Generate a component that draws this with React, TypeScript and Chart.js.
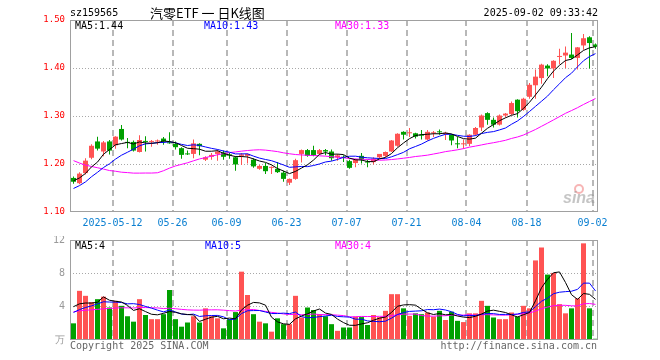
import React, { useEffect, useRef } from 'react';
import { Chart, registerables } from 'chart.js';

Chart.register(...registerables);

// ---------- data ----------
const dates = [
  '04-28', '04-29', '04-30', '05-06', '05-07', '05-08', '05-09',
  '05-12', '05-13', '05-14', '05-15', '05-16',
  '05-19', '05-20', '05-21', '05-22', '05-23',
  '05-26', '05-27', '05-28', '05-29', '05-30',
  '06-03', '06-04', '06-05', '06-06',
  '06-09', '06-10', '06-11', '06-12', '06-13',
  '06-16', '06-17', '06-18', '06-19', '06-20',
  '06-23', '06-24', '06-25', '06-26', '06-27',
  '06-30', '07-01', '07-02', '07-03', '07-04',
  '07-07', '07-08', '07-09', '07-10', '07-11',
  '07-14', '07-15', '07-16', '07-17', '07-18',
  '07-21', '07-22', '07-23', '07-24', '07-25',
  '07-28', '07-29', '07-30', '07-31', '08-01',
  '08-04', '08-05', '08-06', '08-07', '08-08',
  '08-11', '08-12', '08-13', '08-14', '08-15',
  '08-18', '08-19', '08-20', '08-21', '08-22',
  '08-25', '08-26', '08-27', '08-28', '08-29',
  '09-01', '09-02',
];

const tickDates = ['05-12', '05-26', '06-09', '06-23', '07-07', '07-21', '08-04', '08-18', '09-02'];
const tickLabels = ['2025-05-12', '05-26', '06-09', '06-23', '07-07', '07-21', '08-04', '08-18', '09-02'];
const priceTicks = [1.1, 1.2, 1.3, 1.4, 1.5];
const volumeTicks = [0, 4, 8, 12];
const volumeUnit = '万';

const open = [
  1.171, 1.160, 1.181, 1.213, 1.247, 1.226, 1.247, 1.239, 1.273, 1.246,
  1.246, 1.225, 1.248, 1.246, 1.247, 1.253, 1.245, 1.242, 1.233, 1.222,
  1.221, 1.242, 1.209, 1.215, 1.221, 1.224, 1.220, 1.214, 1.217, 1.217,
  1.209, 1.190, 1.196, 1.192, 1.190, 1.182, 1.161, 1.169, 1.221, 1.229,
  1.229, 1.221, 1.229, 1.226, 1.214, 1.215, 1.206, 1.202, 1.217, 1.205,
  1.204, 1.214, 1.217, 1.226, 1.238, 1.267, 1.264, 1.264, 1.261, 1.251,
  1.264, 1.268, 1.262, 1.261, 1.243, 1.241, 1.242, 1.261, 1.276, 1.306,
  1.292, 1.282, 1.301, 1.304, 1.334, 1.313, 1.340, 1.364, 1.379, 1.405,
  1.399, 1.423, 1.426, 1.428, 1.421, 1.447, 1.464, 1.449,
];
const high = [
  1.174, 1.183, 1.212, 1.241, 1.257, 1.248, 1.250, 1.258, 1.281, 1.254,
  1.249, 1.260, 1.258, 1.250, 1.251, 1.256, 1.266, 1.247, 1.235, 1.228,
  1.251, 1.243, 1.216, 1.223, 1.230, 1.228, 1.223, 1.216, 1.223, 1.222,
  1.212, 1.198, 1.202, 1.195, 1.204, 1.186, 1.170, 1.211, 1.230, 1.231,
  1.238, 1.231, 1.231, 1.230, 1.221, 1.218, 1.209, 1.211, 1.223, 1.209,
  1.214, 1.221, 1.226, 1.250, 1.264, 1.268, 1.275, 1.265, 1.271, 1.271,
  1.269, 1.272, 1.267, 1.262, 1.256, 1.251, 1.262, 1.277, 1.303, 1.308,
  1.297, 1.303, 1.306, 1.330, 1.335, 1.338, 1.369, 1.397, 1.409, 1.408,
  1.416, 1.440, 1.445, 1.473, 1.444, 1.471, 1.466, 1.451,
];
const low = [
  1.159, 1.158, 1.178, 1.210, 1.228, 1.216, 1.220, 1.232, 1.249, 1.233,
  1.226, 1.224, 1.226, 1.236, 1.240, 1.240, 1.242, 1.230, 1.211, 1.219,
  1.212, 1.218, 1.206, 1.209, 1.207, 1.209, 1.211, 1.186, 1.198, 1.201,
  1.192, 1.188, 1.179, 1.179, 1.181, 1.163, 1.156, 1.167, 1.203, 1.215,
  1.216, 1.219, 1.218, 1.207, 1.207, 1.204, 1.190, 1.193, 1.201, 1.193,
  1.199, 1.212, 1.214, 1.225, 1.236, 1.251, 1.256, 1.253, 1.251, 1.249,
  1.256, 1.261, 1.250, 1.239, 1.233, 1.232, 1.237, 1.259, 1.269, 1.282,
  1.276, 1.280, 1.297, 1.302, 1.297, 1.311, 1.336, 1.336, 1.367, 1.383,
  1.379, 1.408, 1.400, 1.419, 1.397, 1.438, 1.399, 1.440,
];
const close = [
  1.163, 1.180, 1.207, 1.238, 1.232, 1.245, 1.228, 1.257, 1.251, 1.244,
  1.228, 1.250, 1.246, 1.248, 1.249, 1.247, 1.243, 1.235, 1.219, 1.220,
  1.243, 1.237, 1.214, 1.219, 1.226, 1.215, 1.218, 1.199, 1.220, 1.221,
  1.195, 1.196, 1.185, 1.194, 1.183, 1.169, 1.169, 1.208, 1.229, 1.217,
  1.218, 1.229, 1.226, 1.212, 1.218, 1.213, 1.192, 1.209, 1.209, 1.203,
  1.211, 1.221, 1.225, 1.249, 1.263, 1.261, 1.266, 1.257, 1.259, 1.267,
  1.266, 1.266, 1.265, 1.249, 1.241, 1.243, 1.261, 1.275, 1.301, 1.292,
  1.282, 1.301, 1.305, 1.327, 1.310, 1.336, 1.365, 1.382, 1.407, 1.399,
  1.415, 1.425, 1.432, 1.421, 1.443, 1.462, 1.452, 1.444,
];
// volume, 万手
const volume = [
  2.0, 5.9, 5.3, 4.55, 4.9, 5.2, 3.9, 4.7, 4.1, 2.85,
  2.2, 4.9, 3.0, 2.5, 2.5, 3.1, 6.0, 2.5, 1.6, 2.1,
  2.85, 2.1, 3.8, 2.85, 2.6, 1.4, 2.5, 3.35, 8.2, 5.4,
  3.1, 2.2, 2.0, 1.0, 2.6, 1.9, 1.9, 5.3, 2.7, 3.9,
  3.6, 3.1, 2.85, 1.9, 1.1, 1.5, 1.5, 2.8, 2.75, 1.8,
  3.0, 2.75, 3.5, 5.5, 5.5, 3.8, 2.9, 3.2, 3.1, 3.3,
  2.8, 3.5, 2.4, 3.4, 2.3, 2.15, 3.2, 3.2, 4.7, 4.1,
  2.7, 2.5, 2.5, 3.3, 2.8, 4.1, 3.8, 9.55, 11.1, 7.85,
  8.05, 4.3, 3.2, 3.8, 5.0, 11.6, 3.8, 0.15,
];
// sessions before the first visible candle (needed for the moving averages)
const priorCloses = [
  1.33, 1.34, 1.32, 1.31, 1.33, 1.32, 1.30, 1.31,
  1.27, 1.26, 1.25, 1.24, 1.25, 1.23,
  1.12, 1.08, 1.10, 1.12, 1.12, 1.12,
  1.12, 1.13, 1.13, 1.14, 1.145,
  1.15, 1.16, 1.17, 1.182,
];
const priorVolumes = [
  3.0, 3.2, 2.9, 3.3, 3.1, 2.8, 3.0, 3.2,
  3.1, 2.9, 3.0, 3.2, 3.3, 3.0,
  5.5, 4.6, 4.4, 4.0, 3.8, 3.7,
  2.4, 2.8, 2.6, 2.5, 2.7,
  4.2, 4.8, 4.6, 4.4,
];

const code = 'sz159565';
const title = '汽零ETF 一 日K线图';
const timestamp = '2025-09-02 09:33:42';
const priceMaLabels = ['MA5:1.44', 'MA10:1.43', 'MA30:1.33'];
const volumeMaLabels = ['MA5:4', 'MA10:5', 'MA30:4'];
const maPeriods = [5, 10, 30];
const copyright = 'Copyright 2025 SINA.COM';
const siteUrl = 'http://finance.sina.com.cn';
const watermark = 'sina';

// ---------- styles ----------
const MONO = '"DejaVu Sans Mono", monospace';
const RED = '#ff5353';
const GREEN = '#00a000';
const MA_COLORS = ['#000000', '#0000ff', '#ff00ff'];
const X_MIN = -1 / 12;

function movingAverage(values: number[], prior: number[], n: number) {
  const all = prior.concat(values);
  return values.map((_, i) => {
    const end = prior.length + i;
    let s = 0;
    for (let k = end - n + 1; k <= end; k++) s += all[k];
    return s / n;
  });
}

const tickIdx = tickDates.map((d) => dates.indexOf(d));
const candleColors = close.map((c, i) => (c >= open[i] ? RED : GREEN));

function xAxis(showLabels: boolean, height: number) {
  return {
    type: 'linear',
    min: X_MIN,
    max: dates.length + X_MIN,
    offset: false,
    afterBuildTicks: (s: any) => {
      s.ticks = tickIdx.map((v) => ({ value: v }));
    },
    afterFit: (s: any) => {
      s.height = height;
      s.paddingLeft = 0;
      s.paddingRight = 0;
    },
    grid: { color: '#b8b8b8', lineWidth: 2, offset: false, drawTicks: false },
    border: { display: false, dash: [6, 4] },
    ticks: {
      display: showLabels,
      autoSkip: false,
      maxRotation: 0,
      minRotation: 0,
      padding: 5,
      color: '#0a7fd1',
      font: { family: MONO, size: 10 },
      callback: (v: number) => {
        const k = tickIdx.indexOf(Math.round(v));
        return k >= 0 ? tickLabels[k] : '';
      },
    },
  };
}

function yAxis(min: number, max: number, ticks: number[], color: string, size: number, cb: (v: number) => string) {
  return {
    type: 'linear',
    min,
    max,
    afterBuildTicks: (s: any) => {
      s.ticks = ticks.map((v) => ({ value: v }));
    },
    afterFit: (s: any) => {
      s.width = 70;
      s.paddingTop = 0;
      s.paddingBottom = 0;
    },
    grid: {
      color: (ctx: any) => (ctx.index > 0 && ctx.index < ticks.length - 1 ? '#a8a8a8' : 'rgba(0,0,0,0)'),
      drawTicks: false,
    },
    border: { display: false, dash: [1, 2] },
    ticks: { color, padding: 5, font: { family: MONO, size }, callback: cb },
  };
}

function txt(ctx: CanvasRenderingContext2D, s: string, x: number, y: number, color: string, font: string, align: CanvasTextAlign = 'left') {
  ctx.font = font;
  ctx.fillStyle = color;
  ctx.textAlign = align;
  ctx.textBaseline = 'middle';
  ctx.fillText(s, x, y);
}

function decor(draw: (ctx: CanvasRenderingContext2D) => void) {
  return {
    id: 'decor',
    afterDraw(chart: any) {
      const { ctx, chartArea: a } = chart;
      ctx.save();
      ctx.strokeStyle = '#a0a0a0';
      ctx.lineWidth = 1;
      ctx.setLineDash([]);
      ctx.strokeRect(a.left + 0.5, a.top + 0.5, a.right - a.left - 1, a.bottom - a.top - 1);
      draw(ctx);
      ctx.restore();
    },
  };
}

function maLine(values: number[], color: string) {
  return {
    type: 'line',
    data: values.map((y, i) => ({ x: i + 0.5, y })),
    borderColor: color,
    borderWidth: 1,
    pointRadius: 0,
    tension: 0,
    fill: false,
    order: 0,
  };
}

const baseOptions = {
  responsive: false,
  animation: false,
  devicePixelRatio: 1,
  events: [],
  plugins: { legend: { display: false }, tooltip: { enabled: false }, title: { display: false } },
};

function priceConfig(): any {
  const mas = maPeriods.map((n) => movingAverage(close, priorCloses, n));
  return {
    type: 'bar',
    data: {
      datasets: [
        ...mas.map((m, k) => maLine(m, MA_COLORS[k])),
        {
          type: 'bar',
          data: dates.map((_, i) => ({ x: i + 0.5, y: [open[i], close[i]] })),
          backgroundColor: candleColors,
          barThickness: 5,
          minBarLength: 1,
          grouped: false,
          borderWidth: 0,
          inflateAmount: 0,
          order: 1,
        },
        {
          type: 'bar',
          data: dates.map((_, i) => ({ x: i + 0.5, y: [low[i], high[i]] })),
          backgroundColor: candleColors,
          barThickness: 1,
          minBarLength: 1,
          grouped: false,
          borderWidth: 0,
          inflateAmount: 0,
          order: 2,
        },
      ],
    },
    options: {
      ...baseOptions,
      layout: { padding: { top: 20, right: 62, left: 0, bottom: 0 } },
      scales: {
        x: xAxis(true, 24),
        y: yAxis(1.1, 1.5, priceTicks, '#ff0000', 9, (v) => Number(v).toFixed(2)),
      },
    },
    plugins: [
      decor((ctx) => {
        txt(ctx, code, 70, 13, '#000', `10px ${MONO}`);
        txt(ctx, title, 150, 13, '#000', '13px "Noto Sans CJK SC"');
        txt(ctx, timestamp, 598, 13, '#000', `10px ${MONO}`, 'right');
        const xs = [75, 204, 335];
        priceMaLabels.forEach((s, k) => txt(ctx, s, xs[k], 26.5, MA_COLORS[k], `10px ${MONO}`));
        // watermark
        ctx.strokeStyle = 'rgba(240,120,120,0.55)';
        ctx.lineWidth = 2;
        ctx.beginPath();
        ctx.arc(579, 189, 4, 0, Math.PI * 2);
        ctx.stroke();
        txt(ctx, watermark, 563, 199, 'rgba(150,150,150,0.55)', 'italic bold 16px "Liberation Sans"');
      }),
    ],
  };
}

function volumeConfig(): any {
  const mas = maPeriods.map((n) => movingAverage(volume, priorVolumes, n));
  return {
    type: 'bar',
    data: {
      datasets: [
        ...mas.map((m, k) => maLine(m, MA_COLORS[k])),
        {
          type: 'bar',
          data: dates.map((_, i) => ({ x: i + 0.5, y: volume[i] })),
          backgroundColor: candleColors,
          barThickness: 5,
          grouped: false,
          borderWidth: 0,
          inflateAmount: 0,
          order: 1,
        },
      ],
    },
    options: {
      ...baseOptions,
      layout: { padding: { top: 4, right: 62, left: 0, bottom: 0 } },
      scales: {
        x: xAxis(false, 20),
        y: yAxis(0, 12, volumeTicks, '#999999', 10, (v) => (v === 0 ? volumeUnit : String(v))),
      },
    },
    plugins: [
      decor((ctx) => {
        const xs = [75, 205, 335];
        volumeMaLabels.forEach((s, k) => txt(ctx, s, xs[k], 10, MA_COLORS[k], `10px ${MONO}`));
        txt(ctx, copyright, 70, 110, '#666', `10px ${MONO}`);
        txt(ctx, siteUrl, 597, 110, '#666', `10px ${MONO}`, 'right');
      }),
    ],
  };
}

export default function App() {
  const priceRef = useRef<HTMLCanvasElement>(null);
  const volRef = useRef<HTMLCanvasElement>(null);

  useEffect(() => {
    document.body.style.margin = '0';
    const c1 = new Chart(priceRef.current as HTMLCanvasElement, priceConfig());
    const c2 = new Chart(volRef.current as HTMLCanvasElement, volumeConfig());
    return () => {
      c1.destroy();
      c2.destroy();
    };
  }, []);

  return (
    <div style={{ position: 'fixed', left: 0, top: 0, width: 660, height: 360, background: '#fff' }}>
      <canvas ref={priceRef} width={660} height={236} style={{ position: 'absolute', left: 0, top: 0 }} />
      <canvas ref={volRef} width={660} height={124} style={{ position: 'absolute', left: 0, top: 236 }} />
    </div>
  );
}
